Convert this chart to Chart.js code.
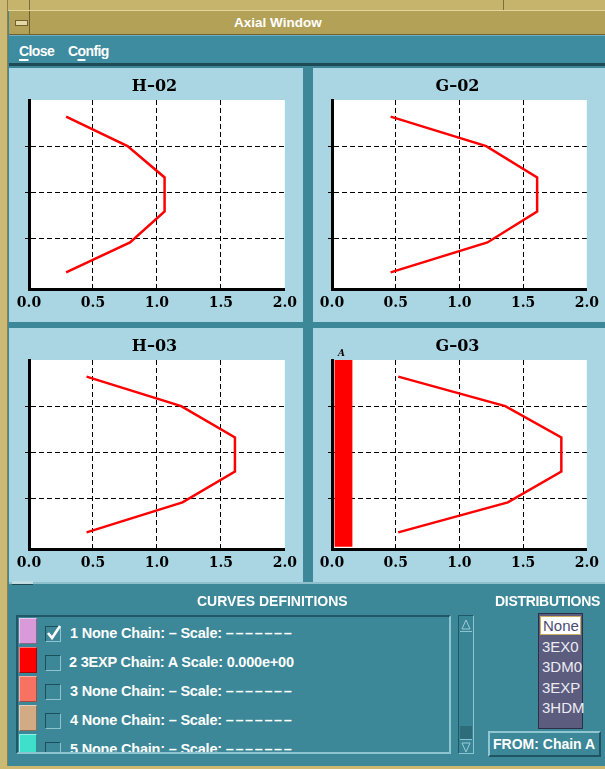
<!DOCTYPE html>
<html><head><meta charset="utf-8">
<script src="https://cdn.jsdelivr.net/npm/chart.js@4.4.1/dist/chart.umd.min.js"></script>
<style>
body{margin:0;width:605px;height:769px;overflow:hidden;background:#3c8898;position:relative;font-family:"Liberation Sans",Arial,sans-serif;}
.abs{position:absolute;}
.panel{position:absolute;background:#aad6e4;}
.lbl{position:absolute;color:#fff;font-weight:bold;font-size:14px;white-space:nowrap;line-height:18px;}
.ul{text-decoration:underline;text-decoration-thickness:2px;text-underline-offset:3px;}
canvas{position:absolute;left:0;top:0;}
</style></head><body>
<script>
// ---- chart data ----
const yLevels   = [3.64, 3.0, 2.32, 1.58, 0.91, 0.26];
const h02Values = [0.29, 0.77, 1.06, 1.06, 0.79, 0.29];
const g02Values = [0.46, 1.21, 1.61, 1.61, 1.22, 0.46];
const h03Values = [0.45, 1.19, 1.61, 1.61, 1.20, 0.45];
const g03Values = [0.52, 1.36, 1.80, 1.80, 1.38, 0.52];
const panelTitles = ['H\u201302', 'G\u201302', 'H\u201303', 'G\u201303'];
const xTickValues = [0, 0.5, 1.0, 1.5, 2.0];
const xTickLabels = ['0.0', '0.5', '1.0', '1.5', '2.0'];
const yGridValues = [1, 2, 3];
const g03BarX = [0.02, 0.16];
const g03BarY = [-0.05, 4.0];
const g03BarLabel = 'A';
// ---- list data ----
const curveColors  = ['#d89ad8', '#ff0000', '#f87262', '#d2aa84', '#3ee0cc'];
const curveChecked = [true, false, false, false, false];
const curveLabels  = ['1 None Chain: \u2013 Scale: ', '2 3EXP Chain: A Scale: 0.000e+00', '3 None Chain: \u2013 Scale: ', '4 None Chain: \u2013 Scale: ', '5 None Chain: \u2013 Scale: '];
const curveDashes  = [true, false, true, true, true];
const distributions = ['None', '3EX0', '3DM0', '3EXP', '3HDM'];
</script>

<!-- window frame -->
<div class="abs" style="left:0;top:0;width:605px;height:11px;background:#c6b36c;border-bottom:1px solid #e2d59c;box-sizing:border-box;"></div>
<div class="abs" style="left:29px;top:0;width:1px;height:10px;background:#7d6d38;"></div>
<div class="abs" style="left:503px;top:0;width:1px;height:10px;background:#7d6d38;"></div>
<div class="abs" style="left:0;top:0;width:8px;height:769px;background:#cbb976;border-right:1px solid #8f7f45;box-sizing:border-box;"></div>
<div class="abs" style="left:0;top:766px;width:605px;height:3px;background:#cdb870;"></div>
<!-- title bar -->
<div class="abs" style="left:9px;top:11px;width:596px;height:24px;background:#b4a158;border-bottom:1px solid #6f6230;box-sizing:border-box;"></div>
<div class="abs" style="left:9px;top:11px;width:21px;height:24px;border-right:1px solid #6f6230;box-sizing:border-box;"></div>
<div class="abs" style="left:15px;top:20px;width:11px;height:4px;background:#e4d8a4;border:1px solid #6f6230;"></div>
<div class="lbl" style="left:234px;top:14px;font-size:13.5px;">Axial Window</div>
<!-- menu bar -->
<div class="abs" style="left:9px;top:35px;width:596px;height:31px;background:#3e8ca0;border-top:1px solid #6fb0c0;border-bottom:3px solid #1e4a55;box-sizing:border-box;"></div>
<div class="lbl" style="left:19px;top:42px;font-size:14px;letter-spacing:-0.6px;"><span class="ul">C</span>lose</div>
<div class="lbl" style="left:68px;top:42px;font-size:14px;letter-spacing:-0.6px;">C<span class="ul">o</span>nfig</div>

<!-- chart panels -->
<div class="panel" style="left:9px;top:68px;width:294px;height:254px;"><canvas id="c0" width="294" height="254"></canvas></div>
<div class="panel" style="left:313px;top:68px;width:292px;height:254px;"><canvas id="c1" width="292" height="254"></canvas></div>
<div class="panel" style="left:9px;top:328px;width:294px;height:254px;"><canvas id="c2" width="294" height="254"></canvas></div>
<div class="panel" style="left:313px;top:328px;width:292px;height:254px;"><canvas id="c3" width="292" height="254"></canvas></div>

<!-- lower section -->
<div class="abs" style="left:9px;top:582px;width:596px;height:2px;background:#8fc0cc;"></div>
<div class="abs" style="left:12px;top:581px;width:21px;height:3px;background:#c0dde4;border-bottom:1px solid #1e4a55;"></div>
<div class="lbl" style="left:197px;top:592px;">CURVES DEFINITIONS</div>
<div class="lbl" style="left:495px;top:592px;letter-spacing:-0.3px;">DISTRIBUTIONS</div>

<div id="curveList" class="abs" style="left:16px;top:615px;width:435px;height:139px;border:2px solid;border-color:#1f5866 #8cc4d0 #8cc4d0 #1f5866;box-sizing:border-box;overflow:hidden;"></div>

<!-- scrollbar -->
<div class="abs" style="left:458px;top:615px;width:16px;height:139px;border:1px solid;border-color:#1f5866 #8cc4d0 #8cc4d0 #1f5866;box-sizing:border-box;background:#3a8595;">
  <div class="abs" style="left:1px;top:1px;width:12px;height:14px;border-bottom:1px solid #8cc4d0;">
    <svg width="12" height="14"><polygon points="2,12 6,3 10,12" fill="none" stroke="#9ccbd6" stroke-width="1"/></svg>
  </div>
  <div class="abs" style="left:1px;top:110px;width:12px;height:13px;background:#2e6c7a;"></div>
  <div class="abs" style="left:1px;top:123px;width:12px;height:13px;border-top:1px solid #8cc4d0;">
    <svg width="12" height="13"><polygon points="2,2 6,11 10,2" fill="none" stroke="#9ccbd6" stroke-width="1"/></svg>
  </div>
</div>

<!-- distributions list -->
<div id="distList" class="abs" style="left:538px;top:613px;width:45px;height:116px;background:#5b5c7e;border:1px solid #2d2e48;box-sizing:border-box;"></div>
<!-- FROM button -->
<div class="abs" style="left:488px;top:731px;width:113px;height:26px;border:2px solid;border-color:#8fc6d2 #1f5563 #1f5563 #8fc6d2;box-sizing:border-box;"></div>
<div class="lbl" style="left:493px;top:735px;">FROM: Chain A</div>

<script>
// build curve list rows
(function(){
  const list = document.getElementById('curveList');
  curveLabels.forEach((txt, i) => {
    const top = 1 + i * 29;
    const sw = document.createElement('div');
    sw.className = 'abs';
    sw.style.cssText = `left:1px;top:${top}px;width:18px;height:26px;background:${curveColors[i]};border:1px solid;border-color:rgba(255,255,255,0.45) rgba(0,0,0,0.35) rgba(0,0,0,0.35) rgba(255,255,255,0.45);box-sizing:border-box;`;
    list.appendChild(sw);
    const cb = document.createElement('div');
    cb.className = 'abs';
    cb.style.cssText = `left:27px;top:${top + 8}px;width:16px;height:16px;border:1px solid;border-color:#1c4f5c #8ec3cf #8ec3cf #1c4f5c;box-sizing:border-box;`;
    if (curveChecked[i]) {
      cb.innerHTML = '<svg width="18" height="16" style="position:absolute;left:0;top:-2px;overflow:visible"><polyline points="2,8 6,13 14,1" fill="none" stroke="#fff" stroke-width="2.6"/></svg>';
    }
    list.appendChild(cb);
    const t = document.createElement('div');
    t.className = 'lbl';
    t.style.left = (i === 1 ? 51 : 52) + 'px';
    t.style.top = (top + 6) + 'px';
    t.style.fontSize = '14.5px';
    t.style.letterSpacing = '-0.2px';
    t.textContent = txt;
    if (curveDashes[i]) {
      const d = document.createElement('span');
      d.style.letterSpacing = '1.6px';
      d.textContent = '\u2013\u2013\u2013\u2013\u2013\u2013\u2013';
      t.appendChild(d);
    }
    list.appendChild(t);
  });
  const dl = document.getElementById('distList');
  distributions.forEach((name, i) => {
    const it = document.createElement('div');
    it.className = 'abs';
    const top = 2 + i * 20.5;
    if (i === 0) {
      it.style.cssText = `left:1px;top:${top}px;width:41px;height:19px;background:#fff;border:1px solid #c8b060;box-sizing:border-box;color:#4c4c74;font-size:15px;line-height:17px;padding-left:2px;`;
    } else {
      it.style.cssText = `left:3px;top:${top}px;height:19px;color:#ecebf4;font-size:15px;line-height:19px;`;
    }
    it.textContent = name;
    dl.appendChild(it);
  });
})();

// ---- charts ----
const whiteArea = {
  id: 'whiteArea',
  beforeDraw(chart) {
    const a = chart.chartArea, ctx = chart.ctx;
    ctx.save(); ctx.fillStyle = '#ffffff';
    ctx.fillRect(a.left, a.top, a.right - a.left, a.bottom - a.top);
    ctx.restore();
  }
};
const barLabel = {
  id: 'barLabel',
  afterDatasetsDraw(chart, args, opts) {
    if (!opts.text) return;
    const ctx = chart.ctx, xs = chart.scales.x;
    const x = xs.getPixelForValue((g03BarX[0] + g03BarX[1]) / 2) - 2;
    ctx.save();
    ctx.font = 'italic bold 9px "DejaVu Serif"';
    ctx.fillStyle = '#000'; ctx.textAlign = 'center'; ctx.textBaseline = 'bottom';
    ctx.fillText(opts.text, x, chart.chartArea.top - 2);
    ctx.restore();
  }
};

function makeChart(id, title, values, padL, padR, withBar) {
  const datasets = [];
  if (withBar) {
    datasets.push({
      data: [{x: g03BarX[0], y: g03BarY[0]}, {x: g03BarX[1], y: g03BarY[0]}, {x: g03BarX[1], y: g03BarY[1]}, {x: g03BarX[0], y: g03BarY[1]}],
      showLine: true, fill: 'shape', backgroundColor: '#ff0000', borderWidth: 0, borderColor: 'rgba(0,0,0,0)', pointRadius: 0
    });
  }
  datasets.push({
    data: values.map((v, i) => ({x: v, y: yLevels[i]})),
    showLine: true, fill: false, borderColor: '#ff0000', borderWidth: 2.5, pointRadius: 0, tension: 0
  });
  return new Chart(document.getElementById(id), {
    type: 'scatter',
    data: { datasets },
    plugins: [whiteArea, barLabel],
    options: {
      responsive: false, animation: false, devicePixelRatio: 1,
      layout: { padding: { left: padL, right: padR, top: 0, bottom: 0 } },
      plugins: {
        legend: { display: false }, tooltip: { enabled: false },
        title: { display: true, text: title, color: '#000', font: { family: 'DejaVu Serif', size: 16, weight: 'bold' }, padding: { top: 9, bottom: 3.8 } },
        barLabel: { text: withBar ? g03BarLabel : '' }
      },
      scales: {
        x: {
          type: 'linear', min: 0, max: 2,
          afterBuildTicks: s => { s.ticks = xTickValues.map(v => ({ value: v })); },
          afterFit: s => { s.height = 33; },
          ticks: { color: '#000', padding: 6, maxRotation: 0, autoSkip: false, font: { family: 'DejaVu Serif', size: 14, weight: 'bold' }, callback: (v, i) => xTickLabels[i] },
          grid: { drawTicks: false, lineWidth: 1, color: c => (c.tick && (c.tick.value === 0 || c.tick.value === 2)) ? 'rgba(0,0,0,0)' : '#000' },
          border: { display: true, color: '#000', width: 3, dash: [5, 3] }
        },
        y: {
          type: 'linear', min: -0.1, max: 4.0,
          afterBuildTicks: s => { s.ticks = yGridValues.map(v => ({ value: v })); },
          afterFit: s => { s.width = 5; },
          ticks: { display: false },
          grid: { drawTicks: true, tickLength: 4, lineWidth: 1, color: '#000', tickColor: '#000' },
          border: { display: true, color: '#000', width: 3, dash: [5, 3] }
        }
      }
    }
  });
}
makeChart('c0', panelTitles[0], h02Values, 15, 18, false);
makeChart('c1', panelTitles[1], g02Values, 14, 17, false);
makeChart('c2', panelTitles[2], h03Values, 15, 18, false);
makeChart('c3', panelTitles[3], g03Values, 14, 17, true);
</script>
</body></html>
